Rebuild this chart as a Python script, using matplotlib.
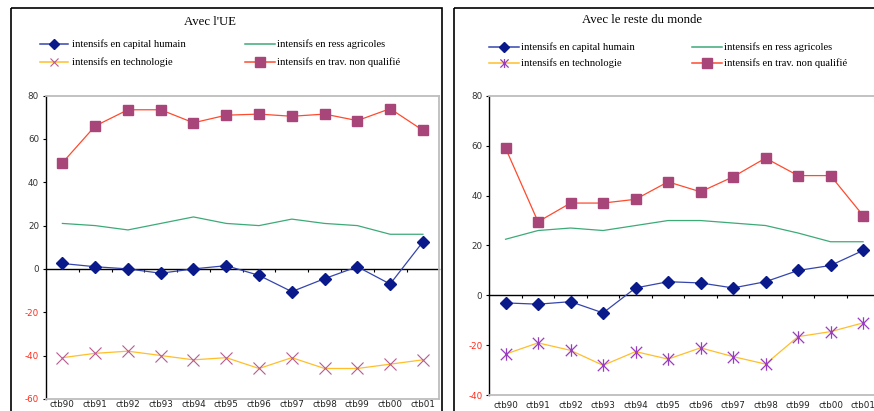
import matplotlib
matplotlib.use("Agg")
import matplotlib.pyplot as plt
from matplotlib.lines import Line2D
from matplotlib.patches import Rectangle
from matplotlib.path import Path
from matplotlib.transforms import Affine2D

# ---- data -------------------------------------------------------------
categories = ["ctb90", "ctb91", "ctb92", "ctb93", "ctb94", "ctb95",
              "ctb96", "ctb97", "ctb98", "ctb99", "ctb00", "ctb01"]

series_names = ["intensifs en capital humain", "intensifs en ress agricoles",
                "intensifs en technologie", "intensifs en trav. non qualifié"]

# Avec l'UE
ue_capital = [2.5, 1, 0, -2, 0, 1.5, -3, -10.5, -4.5, 1, -7, 12.5]
ue_agri = [21, 20, 18, 21, 24, 21, 20, 23, 21, 20, 16, 16]
ue_techno = [-41, -39, -38, -40, -42, -41, -46, -41, -46, -46, -44, -42]
ue_nonqual = [49, 66, 73.5, 73.5, 67.5, 71, 71.5, 70.5, 71.5, 68.5, 74, 64]

# Avec le reste du monde
rdm_capital = [-3, -3.5, -2.5, -7, 3, 5.5, 5, 3, 5.5, 10, 12, 18]
rdm_agri = [22.5, 26, 27, 26, 28, 30, 30, 29, 28, 25, 21.5, 21.5]
rdm_techno = [-23.5, -19, -22, -28, -22.5, -25.5, -21, -24.5, -27.5, -16.5, -14.5, -11]
rdm_nonqual = [59, 29.5, 37, 37, 38.5, 45.5, 41.5, 47.5, 55, 48, 48, 32]

ue_ticks = [80, 60, 40, 20, 0, -20, -40, -60]
rdm_ticks = [80, 60, 40, 20, 0, -20, -40]

# ---- styling ----------------------------------------------------------
W, H = 874, 411
SERIF = "Liberation Serif"
SANS = "DejaVu Sans"

BLUE_LINE = "#3545AE"
BLUE_MARK = "#0A1A8A"
GREEN = "#3DAA78"
YELLOW = "#FFBE2A"
RED_LINE = "#FF4A2E"
PLUM = "#A8467A"
CROSS_UE = "#B85A90"
CROSS_RDM = "#9A3CC0"
GRID_GREY = "#BDBDBD"

asterisk = Path([(-1, -1), (1, 1), (-1, 1), (1, -1), (0, -1.1), (0, 1.1)],
                [Path.MOVETO, Path.LINETO] * 3)

fig = plt.figure(figsize=(W / 100, H / 100), dpi=100)
fig.patch.set_facecolor("white")
# pixel coordinates measured from the top-left corner of the figure
pix = Affine2D().scale(1 / W, -1 / H).translate(0, 1) + fig.transFigure


def axes_at(x0, y0, x1, y1):
    return fig.add_axes([x0 / W, 1 - y1 / H, (x1 - x0) / W, (y1 - y0) / H])


def draw_panel(ax, capital, agri, techno, nonqual, yticks,
               techno_marker, techno_color, techno_ms, techno_mew, xpad):
    x = list(range(len(categories)))
    ax.plot(x, agri, color=GREEN, lw=0.9, zorder=2)
    ax.plot(x, techno, color=YELLOW, lw=0.9, marker=techno_marker,
            ms=techno_ms, mec=techno_color, mfc="none", mew=techno_mew, zorder=3)
    ax.plot(x, nonqual, color=RED_LINE, lw=0.9, marker="s", ms=7.4,
            mfc=PLUM, mec=PLUM, zorder=4)
    ax.plot(x, capital, color=BLUE_LINE, lw=0.9, marker="D", ms=6.4,
            mfc=BLUE_MARK, mec=BLUE_MARK, zorder=5)

    ymin, ymax = min(yticks), max(yticks)
    ax.set_xlim(-0.5, len(categories) - 0.5)
    ax.set_ylim(ymin, ymax)

    ax.set_yticks(yticks)
    ax.set_yticklabels([f"{v:d}" for v in yticks], fontfamily=SANS, fontsize=6.3)
    for lab, v in zip(ax.get_yticklabels(), yticks):
        lab.set_color("#FF2A1A" if v < 0 else "#333333")
    ax.tick_params(axis="y", direction="out", length=2.5, width=0.8, pad=2.5)

    ax.set_xticks(x)
    ax.set_xticklabels(categories, fontfamily=SANS, fontsize=6.3, color="#222222")
    ax.tick_params(axis="x", length=0, pad=xpad)

    for side in ("top", "right", "bottom"):
        ax.spines[side].set_color(GRID_GREY)
        ax.spines[side].set_linewidth(1.3)
    ax.spines["left"].set_color("black")
    ax.spines["left"].set_linewidth(1.0)

    # category axis crossing at zero, with ticks between categories
    zero = (0 - ymin) / (ymax - ymin)
    sec = ax.secondary_xaxis(zero)
    sec.set_xticks([i + 0.5 for i in range(len(categories) - 1)])
    sec.tick_params(direction="out", length=2.5, width=0.8, labelbottom=False)
    sec.spines["bottom"].set_color("black")
    sec.spines["bottom"].set_linewidth(1.0)


def draw_legend(rows, cols, techno_marker, techno_color, techno_ms, techno_mew):
    # rows: y of each row; cols: (line start, line end, text start) per column
    specs = [
        (0, 0, BLUE_LINE, "D", BLUE_MARK, BLUE_MARK, 4.6, 1.0),
        (0, 1, GREEN, None, None, None, 0, 0),
        (1, 0, YELLOW, techno_marker, "none", techno_color, techno_ms, techno_mew),
        (1, 1, RED_LINE, "s", PLUM, PLUM, 7.0, 1.0),
    ]
    for name, (r, c, lc, mk, mfc, mec, ms, mew) in zip(series_names, specs):
        x0, x1, xt = cols[c]
        y = rows[r]
        fig.add_artist(Line2D([x0, x1], [y, y], color=lc, lw=1.1, transform=pix))
        if mk is not None:
            fig.add_artist(Line2D([(x0 + x1) / 2], [y], marker=mk, ms=ms, mfc=mfc,
                                  mec=mec, mew=mew, lw=0, transform=pix))
        fig.text(xt, y, name, transform=pix, ha="left", va="center",
                 fontfamily=SERIF, fontsize=7.6, color="black")


# ---- left panel: Avec l'UE -------------------------------------------
fig.add_artist(Rectangle((11, 8), 430.5, 430, transform=pix, fill=False,
                         ec="black", lw=1.2))
ax1 = axes_at(46, 95.7, 439.3, 398.8)
draw_panel(ax1, ue_capital, ue_agri, ue_techno, ue_nonqual, ue_ticks,
           "x", CROSS_UE, 8.5, 0.8, 1.2)
fig.text(210, 22, "Avec l'UE", transform=pix, ha="center", va="center",
         fontfamily=SERIF, fontsize=9.2)
draw_legend([44, 62], [(40, 68, 72), (245, 275, 277)], "x", CROSS_UE, 6.0, 0.8)

# ---- right panel: Avec le reste du monde -----------------------------
fig.add_artist(Rectangle((454, 8), 440, 430, transform=pix, fill=False,
                         ec="black", lw=1.2))
ax2 = axes_at(489.3, 95.7, 879.3, 395.3)
draw_panel(ax2, rdm_capital, rdm_agri, rdm_techno, rdm_nonqual, rdm_ticks,
           asterisk, CROSS_RDM, 9.0, 0.9, 4.0)
fig.text(642, 20, "Avec le reste du monde", transform=pix, ha="center",
         va="center", fontfamily=SERIF, fontsize=9.2)
draw_legend([47.3, 62.7], [(489, 519, 521), (692, 722, 724)], asterisk,
            CROSS_RDM, 6.5, 0.9)

fig.savefig("out.png", dpi=100, facecolor="white")
